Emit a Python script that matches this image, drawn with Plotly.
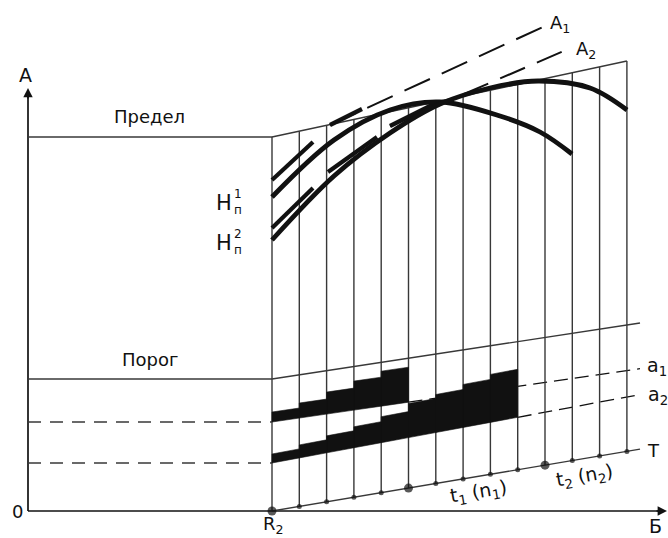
import plotly.graph_objects as go

# ---------------- schematic data (x to the right, y upward from the baseline) ----------------
x_axis_A = 28            # vertical axis A
x_R2 = 272               # point R2 on the axis Б
x_axis_end = 667         # arrow tip of axis Б
y_axis_top = 423         # arrow tip of axis A
cell_step = 27.3         # width of one cell of the grid
cell_index = list(range(14))        # vertical lines of the grid
big_dot_cells = [0, 5, 10]          # R2, t1(n1), t2(n2)
x_line_end = 640         # right end of the slanted lines

# levels at R2 and rise per unit of Б
level_names = ["Предел", "Порог", "a1", "a2", "T"]
level_at_R2 = [374, 132, 89, 48, 0]
level_slope = [0.214, 0.152, 0.145, 0.186, 0.168]

# thickness of the black bands cell by cell
band_a1_thickness = [10, 15, 22, 29, 35]
band_a2_thickness = [9, 13, 17, 21, 26, 34, 38, 43, 48]

# curves H_n^1 and H_n^2
h1_x = [272, 334, 390, 440, 500, 540, 572]
h1_y = [314, 371, 401, 409, 395, 379, 357]
h2_x = [272, 334, 390, 440, 490, 538, 590, 627]
h2_y = [271, 335, 378, 407, 423, 430, 423, 401]

# short stage segments (x0, y0, x1, y1)
stage_x0 = [272, 272, 328, 330, 390]
stage_y0 = [331, 283, 339, 386, 385]
stage_x1 = [313, 313, 377, 362, 434]
stage_y1 = [369, 323, 374, 402, 407]

# tangent lines A1 and A2
A1_x = [330, 545]
A1_y = [386, 485]
A2_x = [390, 566]
A2_y = [385, 461]

# ---------------- helpers ----------------
def lvl(name, x):
    i = level_names.index(name)
    return level_at_R2[i] + level_slope[i] * (x - x_R2)

def cell_x(u):
    return x_R2 + cell_step * u

INK = "#111111"
GRID = "#383838"
fig = go.Figure()

def line(xs, ys, color=GRID, width=1.4, dash=None, shape="linear"):
    fig.add_trace(go.Scatter(x=xs, y=ys, mode="lines", hoverinfo="skip",
                             line=dict(color=color, width=width, dash=dash, shape=shape)))

# axes
line([x_axis_A, x_axis_A], [0, y_axis_top - 4], color=INK, width=1.7)
line([x_axis_A, x_axis_end - 4], [0, 0], color=INK, width=1.7)

# left horizontal levels
line([x_axis_A, x_R2], [level_at_R2[0]] * 2)
line([x_axis_A, x_R2], [level_at_R2[1]] * 2)
line([x_axis_A, x_R2], [level_at_R2[2]] * 2, dash="13px,9px")
line([x_axis_A, x_R2], [level_at_R2[3]] * 2, dash="13px,9px")

x_last = cell_x(cell_index[-1])
# slanted lines of the grid
line([x_R2, x_last], [lvl("Предел", x_R2), lvl("Предел", x_last)])
line([x_R2, x_line_end], [lvl("Порог", x_R2), lvl("Порог", x_line_end)])
line([x_R2, x_line_end], [lvl("T", x_R2), lvl("T", x_line_end)])
# dashed continuation of a1 and a2
xa1 = cell_x(len(band_a1_thickness))
line([xa1, x_line_end], [lvl("a1", xa1), lvl("a1", x_line_end)], color=INK, width=1.3, dash="14px,7px")
xa2 = cell_x(len(band_a2_thickness))
line([xa2, x_line_end], [lvl("a2", xa2), lvl("a2", x_line_end)], color=INK, width=1.3, dash="14px,7px")

# vertical grid lines
vx, vy = [], []
for u in cell_index:
    x = cell_x(u)
    vx += [x, x, None]
    vy += [lvl("T", x), lvl("Предел", x), None]
line(vx, vy)

# black bands
def band(name, thick):
    bx, by = [], []
    for i, t in enumerate(thick):
        x0, x1 = cell_x(i), cell_x(i + 1)
        bx += [x0, x1, x1, x0, x0, None]
        by += [lvl(name, x0), lvl(name, x1), lvl(name, x1) + t, lvl(name, x0) + t, lvl(name, x0), None]
    fig.add_trace(go.Scatter(x=bx, y=by, mode="lines", fill="toself", fillcolor=INK,
                             line=dict(color=INK, width=0.6), hoverinfo="skip"))

band("a1", band_a1_thickness)
band("a2", band_a2_thickness)

# dots on T
dx = [cell_x(u) for u in cell_index]
dy = [lvl("T", x) for x in dx]
ds = [9 if u in big_dot_cells else 5 for u in cell_index]
fig.add_trace(go.Scatter(x=dx, y=dy, mode="markers", hoverinfo="skip",
                         marker=dict(color=INK, size=ds, line=dict(width=0))))

# tangent lines
line(A1_x, A1_y, color=INK, width=2, dash="28px,13px")
line(A2_x, A2_y, color=INK, width=2, dash="27px,13px")

# stage segments
sx, sy = [], []
for a, b, c, d in zip(stage_x0, stage_y0, stage_x1, stage_y1):
    sx += [a, c, None]
    sy += [b, d, None]
line(sx, sy, color=INK, width=4.2)

# curves
line(h1_x, h1_y, color=INK, width=4.8, shape="spline")
line(h2_x, h2_y, color=INK, width=4.8, shape="spline")

# ---------------- texts ----------------
FONT = "DejaVu Sans"
def text(x, y, s, size=18, angle=0, xanchor="center"):
    fig.add_annotation(x=x, y=y, text=s, showarrow=False, textangle=angle,
                       xanchor=xanchor, yanchor="middle", borderpad=0,
                       font=dict(family=FONT, size=size, color=INK))

text(25, 436, "A", 19)
text(17, 0, "0", 18)
text(149, 395, "Предел", 18)
text(150, 152, "Порог", 18)
text(273, -14, "R<sub>2</sub>", 18)
text(655, -15, "Б", 19)
text(657, 145, "a<sub>1</sub>", 19)
text(658, 116, "a<sub>2</sub>", 19)
text(653, 61, "T", 18)
text(560, 487, "A<sub>1</sub>", 18)
text(586, 461, "A<sub>2</sub>", 18)
text(478, 19, "t<sub>1</sub> (n<sub>1</sub>)", 19, angle=-9.5)
text(584, 35, "t<sub>2</sub> (n<sub>2</sub>)", 19, angle=-9.5)
for yh, sup in [(308, "1"), (268, "2")]:
    text(233, yh, "Н", 21, xanchor="right")
    text(233, yh + 1, sup + "<br>п", 12, xanchor="left")

# arrowheads
fig.add_annotation(x=x_axis_A, y=y_axis_top, ax=x_axis_A, ay=y_axis_top - 12,
                   xref="x", yref="y", axref="x", ayref="y", text="", showarrow=True,
                   arrowhead=2, arrowsize=1.1, arrowwidth=1.7, arrowcolor=INK)
fig.add_annotation(x=x_axis_end, y=0, ax=x_axis_end - 12, ay=0,
                   xref="x", yref="y", axref="x", ayref="y", text="", showarrow=True,
                   arrowhead=2, arrowsize=1.1, arrowwidth=1.7, arrowcolor=INK)

fig.update_layout(width=668, height=538, margin=dict(l=0, r=0, t=0, b=0),
                  paper_bgcolor="white", plot_bgcolor="white", showlegend=False,
                  xaxis=dict(range=[0, 668], visible=False, fixedrange=True),
                  yaxis=dict(range=[-27, 511], visible=False, fixedrange=True))
fig.write_html("out.html", config={"displayModeBar": False},
               post_script="document.body.style.margin='0';document.body.style.overflow='hidden';")
